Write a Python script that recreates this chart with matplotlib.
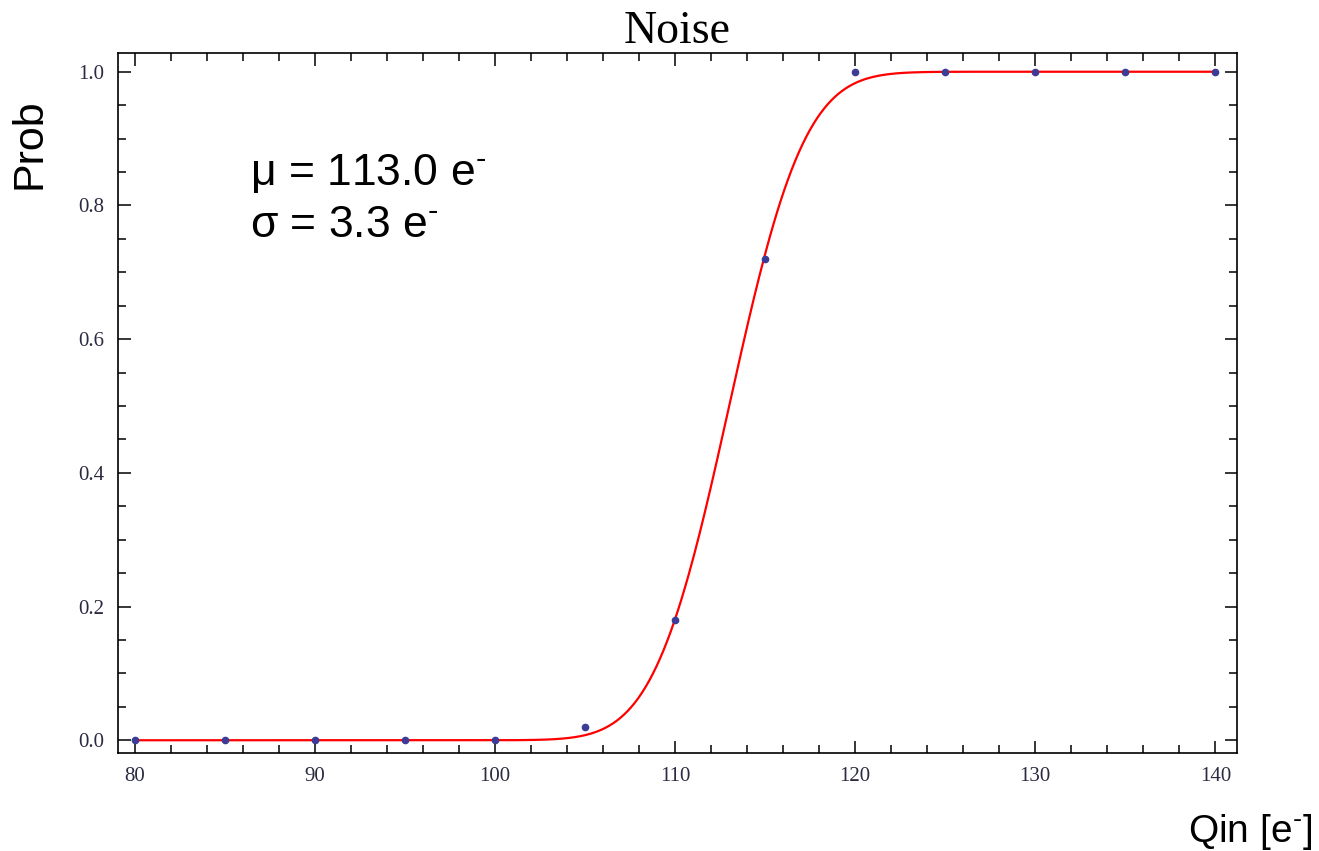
import math
import numpy as np
import matplotlib
matplotlib.use('Agg')
import matplotlib.pyplot as plt
from matplotlib.ticker import MultipleLocator

# measured points
qin = [80, 85, 90, 95, 100, 105, 110, 115, 120, 125, 130, 135, 140]
prob = [0.0, 0.0, 0.0, 0.0, 0.0, 0.02, 0.18, 0.72, 1.0, 1.0, 1.0, 1.0, 1.0]

# fit parameters (error function fit)
mu = 113.0
sigma = 3.3

plt.rcParams['mathtext.fontset'] = 'custom'
plt.rcParams['mathtext.rm'] = 'Liberation Sans'

fig = plt.figure(figsize=(13.19, 8.51), dpi=100)
ax = fig.add_axes([0.0895, 0.1152, 0.8483, 0.8225])

xf = np.linspace(qin[0], qin[-1], 600)
yf = np.array([0.5 * (1 + math.erf((x - mu) / (sigma * math.sqrt(2)))) for x in xf])
ax.plot(xf, yf, color='#ff0000', lw=1.6, zorder=2)
ax.plot(qin, prob, 'o', color='#3c3c96', ms=4.5, zorder=3)

ax.set_xlim(79.06, 141.2)
ax.set_ylim(-0.019, 1.028)
ax.xaxis.set_major_locator(MultipleLocator(10))
ax.xaxis.set_minor_locator(MultipleLocator(2))
ax.yaxis.set_major_locator(MultipleLocator(0.2))
ax.yaxis.set_minor_locator(MultipleLocator(0.05))
ax.yaxis.set_major_formatter(plt.FuncFormatter(lambda v, p: '%.1f' % v))
ax.tick_params(which='both', direction='in', top=True, right=True,
               labelsize=15, labelcolor='#2a2a40', width=1.1)
ax.tick_params(which='major', length=9, pad=10)
ax.tick_params(which='minor', length=5.5)
for lab in ax.get_xticklabels() + ax.get_yticklabels():
    lab.set_family('Liberation Serif')
for s in ax.spines.values():
    s.set_linewidth(1.2)

sup = '$^{\\mathrm{\u2010}}$'
ax.set_title('Noise', family='Liberation Serif', fontsize=33, pad=1)
fig.text(0.022, 0.831, 'Prob', family='Liberation Sans', fontsize=31,
         rotation=90, ha='center', va='center')
fig.text(0.995, 0.0105, 'Qin [e' + sup + ']', family='Liberation Sans', fontsize=28,
         ha='right', va='baseline')
ax.text(0.118, 0.8114, '\u03bc = 113.0 e' + sup, transform=ax.transAxes,
        family='Liberation Sans', fontsize=32, va='baseline')
ax.text(0.118, 0.737, '\u03c3 = 3.3 e' + sup, transform=ax.transAxes,
        family='Liberation Sans', fontsize=32, va='baseline')

fig.savefig('out.png', dpi=100)
